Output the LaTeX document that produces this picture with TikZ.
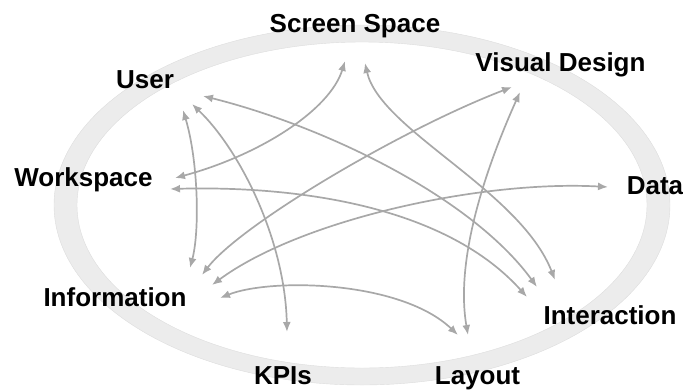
\documentclass[tikz,border=0pt]{standalone}
\usepackage{fontspec}
\setmainfont{Liberation Sans}
\newfontfamily\labfont{Liberation Sans}
\usetikzlibrary{arrows.meta}
\definecolor{ringgray}{HTML}{ECECEC}
\definecolor{ringedge}{HTML}{DDDDDD}
\definecolor{arrgray}{HTML}{A8A8A8}
\begin{document}
\begin{tikzpicture}[x=1pt,y=-1pt,
  lab/.style={font=\labfont\bfseries\fontsize{26}{30}\selectfont, inner sep=0pt, anchor=base, text=black},
  link/.style={draw=arrgray, line width=1.7pt, {Latex[length=10pt,width=8pt]}-{Latex[length=10pt,width=8pt]}}]
\useasboundingbox (0,0) rectangle (683,389);
% ring
\fill[ringgray, even odd rule, draw=ringedge, line width=0.4pt]
  (362,205) ellipse [x radius=308pt, y radius=180pt]
  (362,205) ellipse [x radius=285pt, y radius=163pt];
% labels
\node[lab] (ss) at (355,32) {Screen Space};
\node[lab] (vd) at (560.5,71) {Visual Design};
\node[lab] (us) at (145,88) {User};
\node[lab] (ws) at (83.5,186) {Workspace};
\node[lab] (da) at (655,194) {Data};
\node[lab] (in) at (115,306) {Information};
\node[lab] (ia) at (610,324) {Interaction};
\node[lab] (kp) at (283,384) {KPIs};
\node[lab] (la) at (477.5,384) {Layout};
% connector ends
\coordinate (ws-a) at (175,178);
\coordinate (ws-b) at (170,189);
\coordinate (ss-a) at (345,61);
\coordinate (ss-b) at (365,63);
\coordinate (us-a) at (183,110);
\coordinate (us-b) at (192,104);
\coordinate (us-c) at (203,96);
\coordinate (vd-a) at (512,87);
\coordinate (vd-b) at (520,92);
\coordinate (da-a) at (608,187);
\coordinate (in-a) at (190,268);
\coordinate (in-b) at (202,275);
\coordinate (in-c) at (212,285);
\coordinate (in-d) at (220,298);
\coordinate (kp-a) at (287,332);
\coordinate (la-a) at (458,335);
\coordinate (la-b) at (468,335);
\coordinate (ia-a) at (527,297);
\coordinate (ia-b) at (537,287);
\coordinate (ia-c) at (555,280);
% connectors
\draw[link] (ws-a) .. controls (260,155) and (330,110) .. (ss-a);
\draw[link] (us-a) .. controls (198,160) and (200,230) .. (in-a);
\draw[link] (us-b) .. controls (240,150) and (285,240) .. (kp-a);
\draw[link] (us-c) .. controls (320,125) and (470,195) .. (ia-b);
\draw[link] (ss-b) .. controls (380,130) and (520,190) .. (ia-c);
\draw[link] (ws-b) .. controls (280,186) and (440,200) .. (ia-a);
\draw[link] (in-b) .. controls (240,225) and (400,130) .. (vd-a);
\draw[link] (vd-b) .. controls (485,170) and (455,260) .. (la-b);
\draw[link] (da-a) .. controls (480,180) and (300,220) .. (in-c);
\draw[link] (in-d) .. controls (270,278) and (400,280) .. (la-a);
\end{tikzpicture}
\end{document}
